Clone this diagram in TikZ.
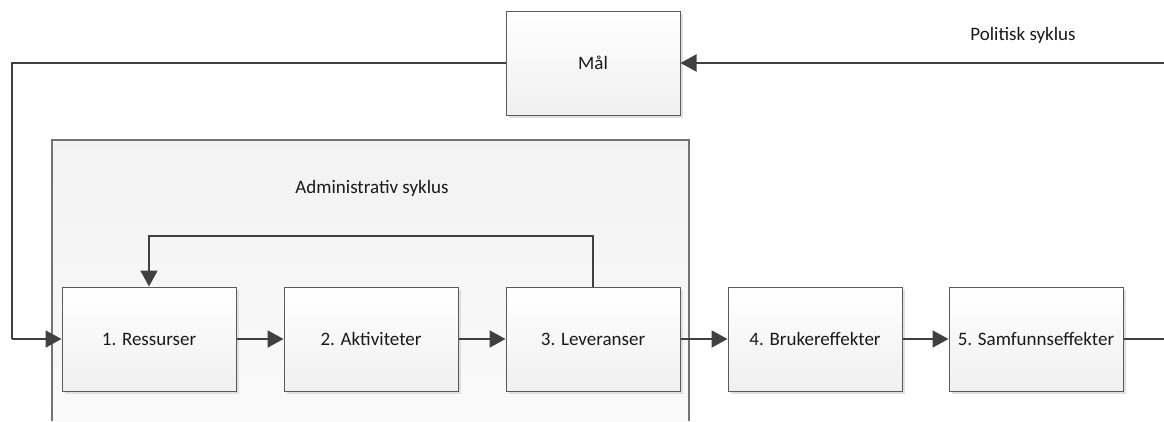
\documentclass[tikz,border=0pt]{standalone}
\usepackage{fontspec}
\setmainfont{Carlito}
\usetikzlibrary{arrows.meta,shadows}
\definecolor{lineC}{HTML}{404040}
\definecolor{boxC}{HTML}{5A5A5A}
\begin{document}
\begin{tikzpicture}[x=1pt,y=-1pt,
  font=\fontsize{19}{22}\selectfont,
  stagebox/.style={draw=boxC,line width=1pt,top color=white,bottom color=black!6,
    minimum width=174pt,minimum height=104pt,inner sep=0pt,text=black!90,
    drop shadow={shadow xshift=3pt,shadow yshift=-3pt,fill=black!12,opacity=1}},
  conn/.style={draw=lineC,line width=2pt},
  arr/.style={conn,-{Triangle[length=16pt,width=17pt]}},
  lbl/.style={inner sep=0pt,text=black!90}]
\useasboundingbox (0,0) rectangle (1164,421);
% administrative frame
\path[top color=black!5,bottom color=black!2] (52,140) rectangle (689,421);
\draw[draw=black!55,line width=1.3pt] (52,421) -- (52,140) -- (689,140) -- (689,421);
\node[lbl] (adm) at (372,188) {Administrativ syklus};
\node[lbl] (pol) at (1023,35) {Politisk syklus};
% boxes
\node[stagebox] (mal) at (593,63) {Mål};
\node[stagebox] (res) at (149,339) {1. Ressurser};
\node[stagebox] (akt) at (371,339) {2. Aktiviteter};
\node[stagebox] (lev) at (593,339) {3. Leveranser};
\node[stagebox] (bru) at (815,339) {4. Brukereffekter};
\node[stagebox] (sam) at (1036,339) {5. Samfunnseffekter};
% free ends
\coordinate (rin) at (1164,63);
\coordinate (lc) at (12,339);
\coordinate (rout) at (1164,339);
% connectors
\draw[arr] (rin) -- (mal.east);
\draw[conn] (mal.west) -| (lc);
\draw[arr] (lc) -- (res.west);
\draw[arr] (res.east) -- (akt.west);
\draw[arr] (akt.east) -- (lev.west);
\draw[arr] (lev.east) -- (bru.west);
\draw[arr] (bru.east) -- (sam.west);
\draw[conn] (sam.east) -- (rout);
\draw[arr] (lev.north) -- ++(0,-51) -| (res.north);
\end{tikzpicture}
\end{document}
